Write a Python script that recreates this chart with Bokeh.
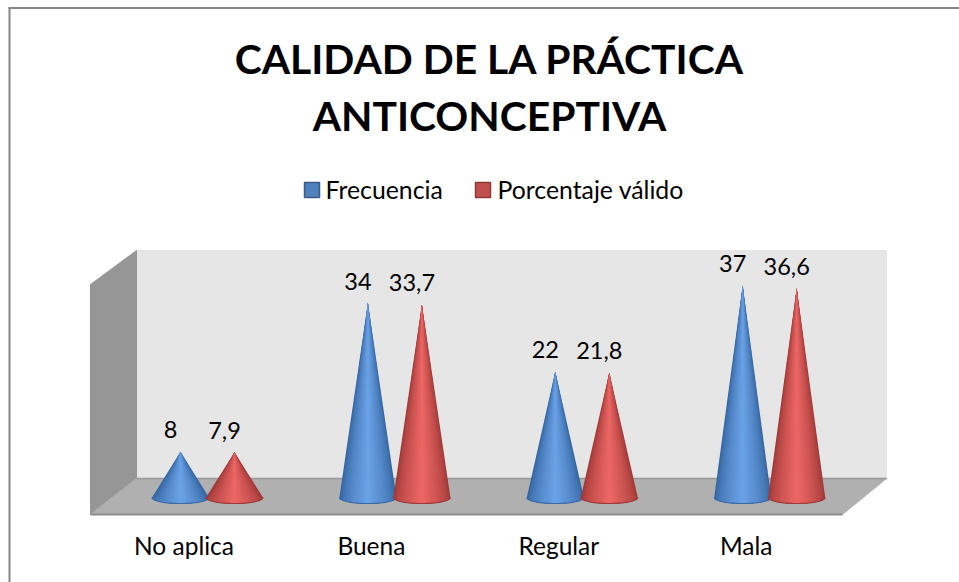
import math
from bokeh.plotting import figure
from bokeh.models import Range1d, LinearAxis, FixedTicker
from bokeh.core.properties import value
from bokeh.embed import file_html
from bokeh.resources import INLINE

TITLE_LINES = ["CALIDAD DE LA PRÁCTICA", "ANTICONCEPTIVA"]
categories = ["No aplica", "Buena", "Regular", "Mala"]
frecuencia = [8, 34, 22, 37]
porcentaje = [7.9, 33.7, 21.8, 36.6]
series_names = ["Frecuencia", "Porcentaje válido"]

FONT = "Lato"
W, H = 959, 582
X0, XS = 183.5, 187.4      # picture px of first category tick, px per category
Y0, YS = 497.0, 5.72       # picture px of value 0, px per unit


def dx(px):
    return (px - X0) / XS


def dy(py):
    return (Y0 - py) / YS


p = figure(width=W, height=H, output_backend="svg", toolbar_location=None,
           x_range=Range1d(dx(0), dx(W)), y_range=Range1d(dy(H), dy(0)),
           min_border=0, outline_line_color=None, x_axis_type=None, y_axis_type=None)
p.grid.visible = False


def poly(pts, fill, line=None, lw=1):
    p.patch([dx(a) for a, _ in pts], [dy(b) for _, b in pts], fill_color=fill,
            line_color=line or fill, line_width=lw)


# outer frame (top and left edges are what the picture shows)
p.line([dx(8), dx(W)], [dy(7.5), dy(7.5)], line_color="#868686", line_width=2)
p.line([dx(9), dx(9)], [dy(7), dy(H)], line_color="#868686", line_width=2)

# 3D box
poly([(136, 250), (886, 250), (886, 478), (136, 478)], "#e6e6e6")
poly([(90, 284), (136, 250), (136, 478), (90, 514)], "#969696")
poly([(90, 514), (136, 478), (886, 478), (842, 514)], "#b0b0b0")
p.line([dx(136), dx(886)], [dy(478), dy(478)], line_color="#989898", line_width=1.5)
p.line([dx(90), dx(842)], [dy(514), dy(514)], line_color="#8c8c8c", line_width=2)

OFFS = [-3.5, 50.5]
RX, RY = 28.5, 6.0
SHADES = [("#3a6aa6", (0x36, 0x66, 0xa2), (0x6c, 0xa4, 0xe8)),
          ("#9c3a38", (0xa0, 0x3a, 0x38), (0xee, 0x68, 0x66))]
LAYERS = 24


def cone(cat, off, val, s):
    rim, lo, hi = SHADES[s]
    cx = X0 + cat * XS + off
    # nested silhouettes, outer (dark) to inner (light), so no seams appear
    for i in range(LAYERS):
        k = i / LAYERS
        a = math.acos(1 - k)
        m = k ** 0.65
        col = "#%02x%02x%02x" % tuple(int(u + (v - u) * m) for u, v in zip(lo, hi))
        angs = [a + (math.pi - 2 * a) * j / 30 for j in range(31)]
        xs = [dx(cx)] + [dx(cx + RX * math.cos(t)) for t in angs]
        ys = [val] + [dy(Y0 + RY * math.sin(t)) for t in angs]
        p.patch(xs, ys, fill_color=col, line_color=None)
    arc = [math.pi * j / 40 for j in range(41)]
    p.line([dx(cx + RX * math.cos(t)) for t in arc],
           [dy(Y0 + RY * math.sin(t)) for t in arc],
           line_color=rim, line_width=1.2)


for c in range(len(categories)):
    for s, vals in enumerate([frecuencia, porcentaje]):
        cone(c, OFFS[s], vals[c], s)

# value labels
lab_x, lab_y, lab_t = [], [], []
for s, vals in enumerate([frecuencia, porcentaje]):
    for c, v in enumerate(vals):
        lab_x.append(c + dx(X0 + OFFS[s]))
        lab_y.append(v)
        lab_t.append(str(v).replace(".", ","))
p.text(lab_x, lab_y, text=lab_t, text_font=value(FONT), text_font_size="23.5px",
       text_color="#000000", text_align="center", text_baseline="middle",
       x_offset=-10, y_offset=-22)

# title
p.text([dx(489), dx(489)], [dy(58), dy(115)], text=TITLE_LINES, text_font=value(FONT),
       text_font_size="40.8px", text_font_style="bold", text_color="#000000",
       text_align="center", text_baseline="middle")

# legend
for (x0, x1, fill, line, tx, name) in [(304, 319, "#4f81bd", "#385d8a", 325, series_names[0]),
                                       (475, 490, "#c0504d", "#8c3836", 497, series_names[1])]:
    poly([(x0, 182), (x1, 182), (x1, 197), (x0, 197)], fill, line, 1.5)
    p.text([dx(tx)], [dy(188.5)], text=[name], text_font=value(FONT), text_font_size="24.8px",
           text_color="#000000", text_align="left", text_baseline="middle")

# category axis
ax = LinearAxis(ticker=FixedTicker(ticks=list(range(len(categories)))),
                major_label_overrides={i: n for i, n in enumerate(categories)},
                axis_line_color=None, major_tick_line_color=None, minor_tick_line_color=None,
                major_label_text_font=FONT, major_label_text_font_size="24.5px",
                major_label_text_color="#000000", major_label_standoff=10,
                fixed_location=dy(514))
p.add_layout(ax, "below")

open("out.html", "w").write(file_html(p, INLINE))
